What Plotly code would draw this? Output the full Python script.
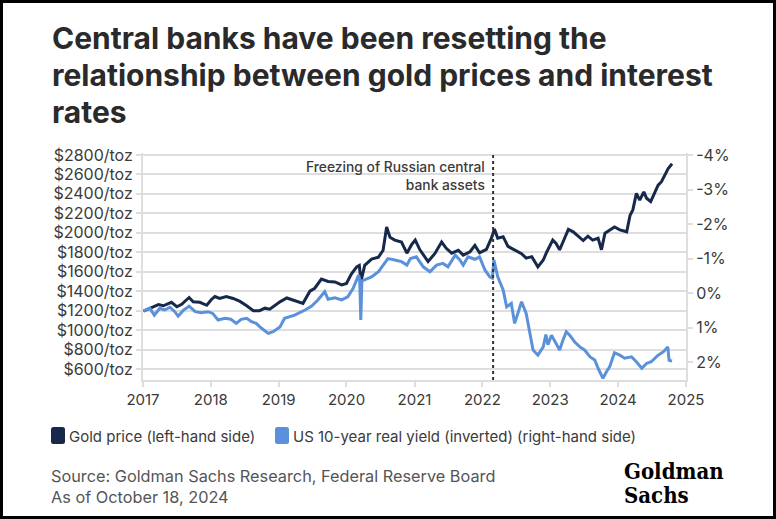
import plotly.graph_objects as go

# ---------------- data ----------------
gold_dates = [
    "2017-01-03", "2017-02-06", "2017-03-25", "2017-04-20", "2017-06-03", "2017-07-02", "2017-07-28",
    "2017-09-06", "2017-09-28", "2017-11-03", "2017-12-10", "2018-01-04", "2018-01-23", "2018-02-17",
    "2018-03-25", "2018-05-01", "2018-06-07", "2018-07-13", "2018-08-18", "2018-09-20", "2018-10-19",
    "2018-11-14", "2018-12-10", "2019-01-08", "2019-02-14", "2019-03-30", "2019-05-12", "2019-06-18",
    "2019-07-14", "2019-08-19", "2019-09-24", "2019-10-31", "2019-12-06", "2020-01-01", "2020-01-27",
    "2020-02-25", "2020-03-10", "2020-03-19", "2020-04-08", "2020-05-15", "2020-06-21", "2020-07-16",
    "2020-08-04", "2020-08-22", "2020-09-17", "2020-10-23", "2020-11-21", "2020-12-17", "2021-01-05",
    "2021-01-30", "2021-03-15", "2021-04-20", "2021-05-27", "2021-06-21", "2021-07-20", "2021-08-25",
    "2021-09-20", "2021-10-27", "2021-11-22", "2021-12-17", "2022-01-23", "2022-02-21", "2022-03-07",
    "2022-03-25", "2022-04-23", "2022-05-19", "2022-06-24", "2022-07-31", "2022-08-25", "2022-09-24",
    "2022-10-27", "2022-11-25", "2022-12-13", "2023-01-15", "2023-02-02", "2023-02-21", "2023-03-11",
    "2023-04-09", "2023-05-05", "2023-05-30", "2023-06-28", "2023-07-23", "2023-08-18", "2023-09-16",
    "2023-10-04", "2023-10-23", "2023-11-17", "2023-12-13", "2024-01-11", "2024-02-17", "2024-03-06",
    "2024-03-21", "2024-04-09", "2024-04-27", "2024-05-19", "2024-06-03", "2024-06-25", "2024-07-17",
    "2024-08-04", "2024-08-22", "2024-09-09", "2024-09-27", "2024-10-18",
]
gold_price = [
    1195, 1225, 1262, 1250, 1285, 1240, 1265,
    1335, 1290, 1285, 1255, 1315, 1345, 1325,
    1345, 1325, 1295, 1250, 1200, 1200, 1225,
    1215, 1250, 1290, 1330, 1300, 1275, 1400,
    1430, 1525, 1500, 1495, 1465, 1480, 1575,
    1650, 1665, 1500, 1665, 1730, 1750, 1820,
    2060, 1955, 1925, 1905, 1790, 1880, 1925,
    1825, 1705, 1785, 1905, 1840, 1790, 1820,
    1770, 1805, 1870, 1795, 1830, 1955, 2040,
    1945, 1960, 1860, 1825, 1785, 1740, 1755,
    1650, 1720, 1800, 1925, 1890, 1825, 1905,
    2035, 2010, 1965, 1920, 1965, 1925, 1945,
    1825, 1995, 2030, 2060, 2030, 2010, 2180,
    2235, 2405, 2335, 2420, 2355, 2320, 2420,
    2490, 2525, 2595, 2660, 2710,
]

yield_dates = [
    "2017-01-03", "2017-02-06", "2017-03-03", "2017-04-01", "2017-04-27", "2017-05-26", "2017-06-21",
    "2017-07-09", "2017-08-04", "2017-09-06", "2017-10-09", "2017-11-10", "2017-12-16", "2018-01-11",
    "2018-02-09", "2018-03-17", "2018-04-19", "2018-05-18", "2018-06-13", "2018-07-13", "2018-08-08",
    "2018-09-02", "2018-10-01", "2018-11-06", "2018-12-02", "2018-12-20", "2019-01-08", "2019-02-02",
    "2019-03-28", "2019-05-23", "2019-06-28", "2019-07-31", "2019-09-06", "2019-09-24", "2019-10-31",
    "2019-12-06", "2020-01-08", "2020-02-06", "2020-03-06", "2020-03-12", "2020-03-18", "2020-03-24",
    "2020-04-08", "2020-05-15", "2020-06-21", "2020-07-16", "2020-08-11", "2020-09-17", "2020-10-23",
    "2020-11-21", "2020-12-10", "2021-01-11", "2021-02-17", "2021-03-25", "2021-04-30", "2021-06-03",
    "2021-06-30", "2021-08-08", "2021-09-02", "2021-09-20", "2021-10-16", "2021-11-22", "2021-12-17",
    "2022-01-15", "2022-02-10", "2022-02-24", "2022-03-04", "2022-03-25", "2022-04-23", "2022-05-12",
    "2022-06-06", "2022-06-24", "2022-07-13", "2022-07-31", "2022-08-25", "2022-09-13", "2022-10-01",
    "2022-10-27", "2022-11-25", "2022-12-09", "2022-12-20", "2023-01-08", "2023-02-02", "2023-02-21",
    "2023-03-11", "2023-03-29", "2023-04-16", "2023-05-12", "2023-06-10", "2023-07-05", "2023-08-04",
    "2023-08-29", "2023-09-16", "2023-10-12", "2023-10-31", "2023-11-17", "2023-12-13", "2024-01-11",
    "2024-02-06", "2024-03-14", "2024-04-09", "2024-05-08", "2024-06-03", "2024-06-28", "2024-08-04",
    "2024-09-02", "2024-09-25", "2024-10-02", "2024-10-18",
]
real_yield = [
    0.52, 0.44, 0.64, 0.44, 0.49, 0.41, 0.54,
    0.67, 0.51, 0.38, 0.54, 0.57, 0.54, 0.59,
    0.78, 0.73, 0.76, 0.88, 0.76, 0.73, 0.83,
    0.88, 1.02, 1.17, 1.12, 1.05, 0.98, 0.73,
    0.64, 0.49, 0.38, 0.20, -0.04, 0.18, 0.14,
    0.20, 0.11, -0.14, -0.52, -0.40, 0.78, -0.35,
    -0.38, -0.47, -0.62, -0.81, -1.00, -0.96, -0.91,
    -0.81, -1.00, -1.05, -0.76, -0.62, -0.81, -0.86,
    -0.76, -1.10, -0.96, -0.81, -1.05, -0.98, -1.05,
    -0.67, -0.47, -0.43, -0.96, -0.47, -0.09, 0.40,
    0.30, 0.88, 0.59, 0.25, 0.59, 1.17, 1.65,
    1.80, 1.56, 1.20, 1.50, 1.22, 1.46, 1.65,
    1.36, 1.12, 1.22, 1.41, 1.56, 1.65, 1.85,
    1.94, 2.18, 2.47, 2.28, 2.14, 1.73, 1.80,
    1.89, 1.85, 1.99, 2.18, 2.04, 1.99, 1.80,
    1.70, 1.56, 1.95, 1.97,
]

gold_tick_vals = [600, 800, 1000, 1200, 1400, 1600, 1800, 2000, 2200, 2400, 2600, 2800]
gold_tick_text = ["$600/toz", "$800/toz", "$1000/toz", "$1200/toz", "$1400/toz", "$1600/toz",
                  "$1800/toz", "$2000/toz", "$2200/toz", "$2400/toz", "$2600/toz", "$2800/toz"]
yield_tick_vals = [-4, -3, -2, -1, 0, 1, 2]
yield_tick_text = ["-4%", "-3%", "-2%", "-1%", "0%", "1%", "2%"]
year_ticks = ["2017-01-01", "2018-01-01", "2019-01-01", "2020-01-01", "2021-01-01",
              "2022-01-01", "2023-01-01", "2024-01-01", "2025-01-01"]
year_labels = ["2017", "2018", "2019", "2020", "2021", "2022", "2023", "2024", "2025"]

event_date = "2022-02-28"
event_label = "Freezing of Russian central<br>bank assets"
series_names = ["Gold price (left-hand side)", "US 10-year real yield (inverted) (right-hand side)"]
title_lines = ["Central banks have been resetting the",
               "relationship between gold prices and interest",
               "rates"]
source_lines = ["Source: Goldman Sachs Research, Federal Reserve Board", "As of October 18, 2024"]
logo_lines = ["Goldman", "Sachs"]

# ---------------- styling ----------------
W, H = 776, 519
L, R, T, B = 143, 90, 153, 139
PW, PH = W - L - R, H - T - B
GOLD_C = "#17294a"
BLUE_C = "#5b91db"
GRID_C = "#dedede"
TXT_C = "#3a3a3a"
FONT = "Inter"


def xp(px):
    return (px - L) / PW


def yp(py):
    return (H - B - py) / PH


def rounded_box(x0, y0, x1, y1, r=2.5):
    # pixel box -> paper-space SVG path with rounded corners
    def X(v):
        return xp(v)

    def Y(v):
        return yp(v)
    return (f"M {X(x0 + r)},{Y(y0)} L {X(x1 - r)},{Y(y0)} Q {X(x1)},{Y(y0)} {X(x1)},{Y(y0 + r)} "
            f"L {X(x1)},{Y(y1 - r)} Q {X(x1)},{Y(y1)} {X(x1 - r)},{Y(y1)} "
            f"L {X(x0 + r)},{Y(y1)} Q {X(x0)},{Y(y1)} {X(x0)},{Y(y1 - r)} "
            f"L {X(x0)},{Y(y0 + r)} Q {X(x0)},{Y(y0)} {X(x0 + r)},{Y(y0)} Z")


fig = go.Figure()
fig.add_trace(go.Scatter(x=gold_dates, y=gold_price, mode="lines", name=series_names[0],
                         line=dict(color=GOLD_C, width=3), yaxis="y", showlegend=False))
fig.add_trace(go.Scatter(x=yield_dates, y=real_yield, mode="lines", name=series_names[1],
                         line=dict(color=BLUE_C, width=3), yaxis="y2", showlegend=False))

shapes = [
    dict(type="line", xref="x", yref="paper", x0=event_date, x1=event_date, y0=0, y1=1,
         line=dict(color="#333333", width=2, dash="dot")),
    # frame
    dict(type="rect", xref="paper", yref="paper", x0=xp(0), x1=xp(W), y0=yp(H), y1=yp(0),
         line=dict(color="black", width=6), fillcolor="rgba(0,0,0,0)", layer="above"),
    # legend swatches
    dict(type="path", xref="paper", yref="paper", path=rounded_box(51, 427, 65, 444),
         line=dict(width=0), fillcolor=GOLD_C),
    dict(type="path", xref="paper", yref="paper", path=rounded_box(275, 427, 289, 444),
         line=dict(width=0), fillcolor=BLUE_C),
]

annotations = []
for line, cy in zip(title_lines, [38, 75, 112]):
    annotations.append(dict(text=line, xref="paper", yref="paper", x=xp(50), y=yp(cy),
                            xanchor="left", yanchor="middle", showarrow=False,
                            font=dict(family=FONT, size=30, color="#2a2a2a", weight=700)))
annotations.append(dict(text=event_label, xref="x", yref="paper", x=event_date, xshift=-6,
                        y=yp(175.5), xanchor="right", yanchor="middle", align="right",
                        showarrow=False, font=dict(family=FONT, size=13.8, color=TXT_C, weight=500)))
annotations.append(dict(text=series_names[0], xref="paper", yref="paper", x=xp(67), y=yp(436),
                        xanchor="left", yanchor="middle", showarrow=False,
                        font=dict(family=FONT, size=15, color=TXT_C)))
annotations.append(dict(text=series_names[1], xref="paper", yref="paper", x=xp(291), y=yp(436),
                        xanchor="left", yanchor="middle", showarrow=False,
                        font=dict(family=FONT, size=15, color=TXT_C)))
for line, cy in zip(source_lines, [476, 497]):
    annotations.append(dict(text=line, xref="paper", yref="paper", x=xp(49), y=yp(cy),
                            xanchor="left", yanchor="middle", showarrow=False,
                            font=dict(family=FONT, size=16.3, color="#555555")))
for line, cy in zip(logo_lines, [471, 495]):
    annotations.append(dict(text=line, xref="paper", yref="paper", x=xp(622), y=yp(cy),
                            xanchor="left", yanchor="middle", showarrow=False,
                            font=dict(family="DejaVu Serif Condensed", size=22, color="black",
                                      weight="bold")))

ytick_font = dict(family=FONT, size=16, color=TXT_C)
xtick_font = dict(family=FONT, size=15, color=TXT_C)
fig.update_layout(
    width=W, height=H,
    margin=dict(l=L, r=R, t=T, b=B, pad=0),
    paper_bgcolor="white", plot_bgcolor="white",
    showlegend=False,
    shapes=shapes, annotations=annotations,
    xaxis=dict(type="date", range=["2017-01-01", "2025-01-01"], tickvals=year_ticks,
               ticktext=year_labels, showgrid=False, zeroline=False, showline=True,
               linecolor=GRID_C, linewidth=2, ticks="outside", ticklen=5, tickcolor=GRID_C,
               tickwidth=1.5, tickfont=xtick_font),
    yaxis=dict(range=[487, 2820], tickvals=gold_tick_vals, ticktext=gold_tick_text,
               showgrid=True, gridcolor=GRID_C, gridwidth=2, zeroline=False, showline=True,
               linecolor=GRID_C, linewidth=2, ticks="outside", ticklen=5, tickcolor=GRID_C,
               tickwidth=1.5, tickfont=ytick_font),
    yaxis2=dict(range=[2.52, -4.06], overlaying="y", side="right", tickvals=yield_tick_vals,
                ticktext=yield_tick_text, showgrid=False, zeroline=False, showline=True,
                linecolor=GRID_C, linewidth=2, ticks="outside", ticklen=5, tickcolor=GRID_C,
                tickwidth=1.5, tickfont=ytick_font),
)

fig.write_html("out.html", config={"displayModeBar": False},
               post_script="document.body.style.margin='0px';document.body.style.overflow='hidden';")
